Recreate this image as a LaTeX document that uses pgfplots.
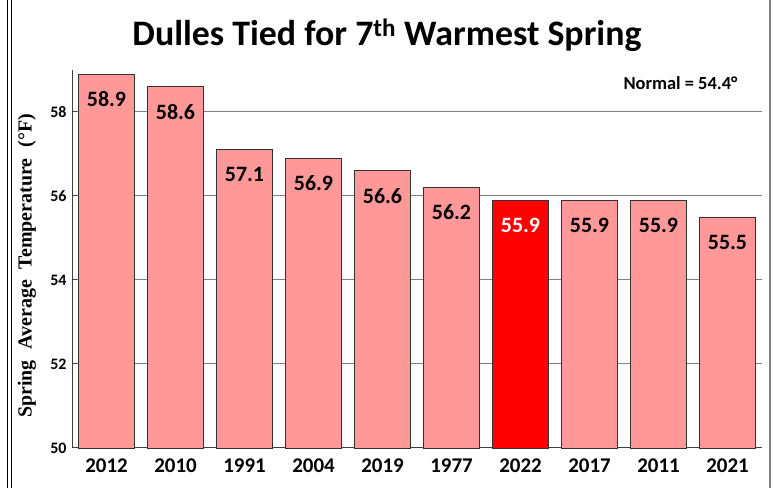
\documentclass[border=0pt]{standalone}
\usepackage{pgfplots}
\pgfplotsset{compat=1.18}
\usepackage{fontspec}
\setmainfont{Carlito}
\newfontfamily\timesfont{Liberation Serif}
\definecolor{barpink}{RGB}{255,153,153}
\definecolor{barred}{RGB}{255,0,0}
\definecolor{gridgray}{RGB}{128,128,128}
\begin{document}
\begin{tikzpicture}[x=1bp,y=1bp]
\useasboundingbox (0,0) rectangle (774,488);
\draw[line width=0.8bp] (7.5,0) -- (7.5,488);
\draw[line width=0.8bp] (11,0) -- (11,488);
\draw[line width=1.2bp, gridgray] (770,0) -- (770,488);
\begin{axis}[
  at={(72bp,40bp)}, anchor=south west,
  scale only axis, width=690bp, height=378bp,
  ybar, bar width=56bp, bar shift=0pt,
  xmin=-0.5, xmax=9.5, ymin=50, ymax=59,
  axis x line*=bottom, axis y line*=left,
  axis line style={draw=black!75, line width=1bp},
  ytick={50,52,54,56,58},
  ymajorgrids, grid style={gridgray, line width=1bp},
  ytick style={black!75, line width=1bp},
  major tick length=5bp,
  y tick label style={font=\fontsize{16}{18}\selectfont\bfseries, xshift=-2bp},
  xtick={0,...,9},
  xticklabels={2012,2010,1991,2004,2019,1977,2022,2017,2011,2021},
  x tick label style={font=\fontsize{21}{24}\selectfont\bfseries, yshift=-2bp},
  xtick style={draw=none},
  /pgf/number format/assume math mode=true,
  nodes near coords,
  every node near coord/.append style={font=\fontsize{22}{25}\selectfont\bfseries, anchor=center, yshift=-25bp,
    /pgf/number format/fixed, /pgf/number format/precision=1, /pgf/number format/fixed zerofill},
  clip=false,
]
\addplot[fill=barpink, draw=black!80, line width=0.8bp] coordinates {
(0,58.9) (1,58.6) (2,57.1) (3,56.9) (4,56.6) (5,56.2) (7,55.9) (8,55.9) (9,55.5)};
\addplot[fill=barred, draw=black!80, line width=0.8bp, every node near coord/.append style={text=white}] coordinates {(6,55.9)};
\end{axis}
\node[font=\fontsize{36}{42}\selectfont\bfseries] at (387,453) {Dulles Tied for 7\textsuperscript{th} Warmest Spring};
\node[font=\fontsize{18.5}{22}\selectfont\bfseries, anchor=east] at (741,405) {Normal = 54.4°};
\node[rotate=90, font=\fontsize{20}{24}\selectfont\bfseries\timesfont] at (27,222) {Spring\hspace{0.55em}Average\hspace{0.55em}Temperature\hspace{0.55em}(°F)};
\end{tikzpicture}
\end{document}
